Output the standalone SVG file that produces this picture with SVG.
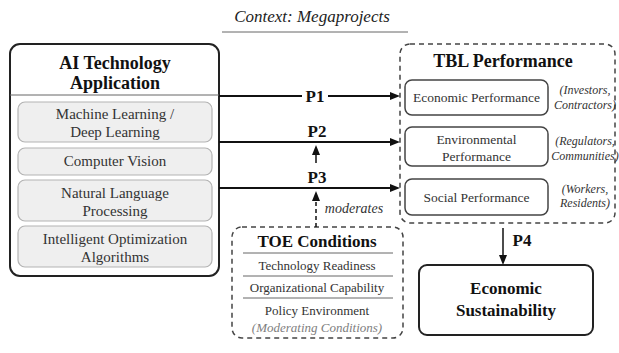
<svg xmlns="http://www.w3.org/2000/svg" width="619" height="353" viewBox="0 0 619 353">
  <defs>
    <path id="tip" d="M0,0 L-10,-4 L-10,4 z" fill="#111"/>
  </defs>
  <rect width="619" height="353" fill="#fff"/>

  <g id="context">
    <text x="312" y="22" font-family="Liberation Serif, Times New Roman, DejaVu Serif, serif" font-style="italic" font-size="17" fill="#222" text-anchor="middle">Context: Megaprojects</text>
    <line x1="222" y1="32" x2="408" y2="32" stroke="#666" stroke-width="1"/>
  </g>

  <g id="ai-technology">
    <rect x="10" y="44" width="209" height="232" rx="10" fill="#fff" stroke="#222" stroke-width="2"/>
    <text x="115" y="69" font-family="Liberation Serif, Times New Roman, DejaVu Serif, serif" font-weight="bold" font-size="18" fill="#111" text-anchor="middle">AI Technology</text>
    <text x="115" y="89" font-family="Liberation Serif, Times New Roman, DejaVu Serif, serif" font-weight="bold" font-size="18" fill="#111" text-anchor="middle">Application</text>
    <line x1="10" y1="95" x2="219" y2="95" stroke="#666" stroke-width="1"/>
    <g fill="#efefef" stroke="#b3b3b3" stroke-width="1.2">
      <rect x="18" y="102" width="194" height="40" rx="7"/>
      <rect x="18" y="148" width="194" height="27" rx="7"/>
      <rect x="18" y="180" width="194" height="41" rx="7"/>
      <rect x="18" y="226" width="194" height="41" rx="7"/>
    </g>
    <text x="115" y="119" font-family="Liberation Serif, Times New Roman, DejaVu Serif, serif" font-size="15" fill="#333" text-anchor="middle">Machine Learning /</text>
    <text x="115" y="137" font-family="Liberation Serif, Times New Roman, DejaVu Serif, serif" font-size="15" fill="#333" text-anchor="middle">Deep Learning</text>
    <text x="115" y="166" font-family="Liberation Serif, Times New Roman, DejaVu Serif, serif" font-size="15" fill="#333" text-anchor="middle">Computer Vision</text>
    <text x="115" y="198" font-family="Liberation Serif, Times New Roman, DejaVu Serif, serif" font-size="15" fill="#333" text-anchor="middle">Natural Language</text>
    <text x="115" y="216" font-family="Liberation Serif, Times New Roman, DejaVu Serif, serif" font-size="15" fill="#333" text-anchor="middle">Processing</text>
    <text x="115" y="244" font-family="Liberation Serif, Times New Roman, DejaVu Serif, serif" font-size="15" fill="#333" text-anchor="middle">Intelligent Optimization</text>
    <text x="115" y="262" font-family="Liberation Serif, Times New Roman, DejaVu Serif, serif" font-size="15" fill="#333" text-anchor="middle">Algorithms</text>
  </g>

  <g id="tbl-performance">
    <rect x="400" y="44" width="215" height="179" rx="10" fill="none" stroke="#444" stroke-width="1.5" stroke-dasharray="5 4"/>
    <text x="503" y="67" font-family="Liberation Serif, Times New Roman, DejaVu Serif, serif" font-weight="bold" font-size="18" fill="#111" text-anchor="middle">TBL Performance</text>
    <g fill="#fff" stroke="#444" stroke-width="1.5">
      <rect x="405" y="80" width="143" height="35" rx="7"/>
      <rect x="405" y="127" width="143" height="39" rx="7"/>
      <rect x="405" y="179" width="143" height="36" rx="7"/>
    </g>
    <text x="476.5" y="102" font-family="Liberation Serif, Times New Roman, DejaVu Serif, serif" font-size="13.5" fill="#333" text-anchor="middle">Economic Performance</text>
    <text x="476.5" y="144" font-family="Liberation Serif, Times New Roman, DejaVu Serif, serif" font-size="13.5" fill="#333" text-anchor="middle">Environmental</text>
    <text x="476.5" y="161" font-family="Liberation Serif, Times New Roman, DejaVu Serif, serif" font-size="13.5" fill="#333" text-anchor="middle">Performance</text>
    <text x="476.5" y="202" font-family="Liberation Serif, Times New Roman, DejaVu Serif, serif" font-size="13.5" fill="#333" text-anchor="middle">Social Performance</text>
    <text x="585" y="94" font-family="Liberation Serif, Times New Roman, DejaVu Serif, serif" font-style="italic" font-size="12" fill="#333" text-anchor="middle">(Investors,</text>
    <text x="585" y="109" font-family="Liberation Serif, Times New Roman, DejaVu Serif, serif" font-style="italic" font-size="12" fill="#333" text-anchor="middle">Contractors)</text>
    <text x="585" y="145" font-family="Liberation Serif, Times New Roman, DejaVu Serif, serif" font-style="italic" font-size="12" fill="#333" text-anchor="middle">(Regulators,</text>
    <text x="585" y="160" font-family="Liberation Serif, Times New Roman, DejaVu Serif, serif" font-style="italic" font-size="12" fill="#333" text-anchor="middle">Communities)</text>
    <text x="585" y="193" font-family="Liberation Serif, Times New Roman, DejaVu Serif, serif" font-style="italic" font-size="12" fill="#333" text-anchor="middle">(Workers,</text>
    <text x="585" y="207" font-family="Liberation Serif, Times New Roman, DejaVu Serif, serif" font-style="italic" font-size="12" fill="#333" text-anchor="middle">Residents)</text>
  </g>

  <g id="toe-conditions">
    <rect x="232" y="227" width="171" height="111" rx="10" fill="none" stroke="#444" stroke-width="1.5" stroke-dasharray="5 4"/>
    <text x="317" y="247" font-family="Liberation Serif, Times New Roman, DejaVu Serif, serif" font-weight="bold" font-size="17" fill="#111" text-anchor="middle">TOE Conditions</text>
    <g stroke="#666" stroke-width="1">
      <line x1="243" y1="253" x2="393" y2="253"/>
      <line x1="243" y1="276" x2="393" y2="276"/>
      <line x1="243" y1="298" x2="393" y2="298"/>
    </g>
    <text x="317" y="270" font-family="Liberation Serif, Times New Roman, DejaVu Serif, serif" font-size="13" fill="#333" text-anchor="middle">Technology Readiness</text>
    <text x="317" y="292" font-family="Liberation Serif, Times New Roman, DejaVu Serif, serif" font-size="13" fill="#333" text-anchor="middle">Organizational Capability</text>
    <text x="317" y="315" font-family="Liberation Serif, Times New Roman, DejaVu Serif, serif" font-size="13" fill="#333" text-anchor="middle">Policy Environment</text>
    <text x="317" y="332" font-family="Liberation Serif, Times New Roman, DejaVu Serif, serif" font-style="italic" font-size="13" fill="#808080" text-anchor="middle">(Moderating Conditions)</text>
  </g>

  <g id="economic-sustainability">
    <rect x="419" y="265" width="174" height="70" rx="8" fill="#fff" stroke="#222" stroke-width="2"/>
    <text x="506" y="294" font-family="Liberation Serif, Times New Roman, DejaVu Serif, serif" font-weight="bold" font-size="17" fill="#111" text-anchor="middle">Economic</text>
    <text x="506" y="316" font-family="Liberation Serif, Times New Roman, DejaVu Serif, serif" font-weight="bold" font-size="17" fill="#111" text-anchor="middle">Sustainability</text>
  </g>

  <g id="connectors">
    <g stroke="#111" fill="none">
      <line x1="219" y1="96" x2="302" y2="96" stroke-width="2"/>
      <line x1="328" y1="96" x2="392" y2="96" stroke-width="2"/>
      <line x1="219" y1="142" x2="392" y2="142" stroke-width="2"/>
      <line x1="219" y1="188" x2="392" y2="188" stroke-width="2"/>
      <line x1="316" y1="163" x2="316" y2="153" stroke-width="1.5"/>
      <line x1="316" y1="227" x2="316" y2="199" stroke-width="1.5" stroke-dasharray="4 3"/>
      <line x1="503" y1="228" x2="503" y2="257" stroke-width="1.5"/>
    </g>
    <use href="#tip" transform="translate(400,96)"/>
    <use href="#tip" transform="translate(400,142)"/>
    <use href="#tip" transform="translate(400,188)"/>
    <use href="#tip" transform="translate(316,145) rotate(-90)"/>
    <use href="#tip" transform="translate(316,191) rotate(-90)"/>
    <use href="#tip" transform="translate(503,265) rotate(90)"/>
    <text x="315" y="102" font-family="Liberation Serif, Times New Roman, DejaVu Serif, serif" font-weight="bold" font-size="17" fill="#111" text-anchor="middle">P1</text>
    <text x="317" y="137" font-family="Liberation Serif, Times New Roman, DejaVu Serif, serif" font-weight="bold" font-size="17" fill="#111" text-anchor="middle">P2</text>
    <text x="317" y="183" font-family="Liberation Serif, Times New Roman, DejaVu Serif, serif" font-weight="bold" font-size="17" fill="#111" text-anchor="middle">P3</text>
    <text x="354" y="213" font-family="Liberation Serif, Times New Roman, DejaVu Serif, serif" font-style="italic" font-size="14" fill="#333" text-anchor="middle">moderates</text>
    <text x="522" y="246" font-family="Liberation Serif, Times New Roman, DejaVu Serif, serif" font-weight="bold" font-size="17" fill="#111" text-anchor="middle">P4</text>
  </g>
</svg>
